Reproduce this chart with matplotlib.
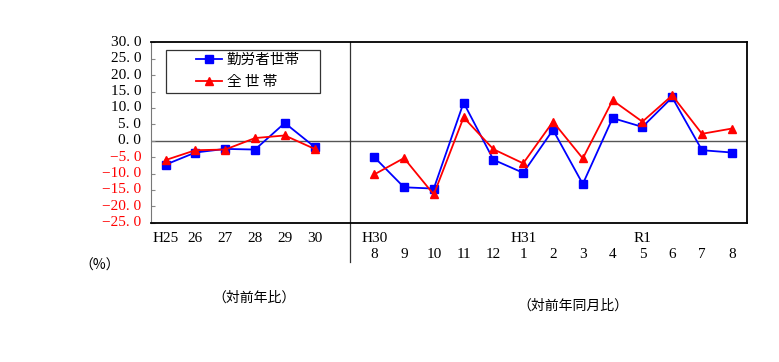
import matplotlib
matplotlib.use("Agg")
import matplotlib.pyplot as plt
from matplotlib.patches import Rectangle
import numpy as np

# ---- data ----
annual_labels = ["H25", "26", "27", "28", "29", "30"]
annual_worker = [-7.3, -3.6, -2.5, -2.7, 5.4, -1.9]
annual_all = [-5.9, -2.9, -2.7, 0.8, 1.6, -2.5]

month_labels = ["8", "9", "10", "11", "12", "1", "2", "3", "4", "5", "6", "7", "8"]
era_labels = {0: "H30", 5: "H31", 9: "R1"}
month_worker = [-5.0, -14.2, -14.6, 11.6, -5.8, -9.8, 3.3, -13.2, 6.9, 4.2, 13.2, -2.9, -3.6]
month_all = [-10.3, -5.3, -16.4, 7.1, -2.6, -6.9, 5.8, -5.4, 12.3, 5.8, 13.8, 2.1, 3.7]

series_names = ["勤労者世帯", "全 世 帯"]
yticks = [-25, -20, -15, -10, -5, 0, 5, 10, 15, 20, 25, 30]

JP = ["Noto Sans CJK JP", "DejaVu Sans"]
NUM = ["Liberation Serif", "DejaVu Serif"]
FS = 11
W, H = 779, 362

fig = plt.figure(figsize=(W / 100, H / 100), dpi=100)
ax = fig.add_axes([150.7 / W, 1 - 222.7 / H, (746.7 - 150.7) / W, (222.7 - 42.3) / H])

xa = np.arange(len(annual_labels))
xm = np.arange(len(month_labels)) + len(annual_labels) + 1

blue = "#0000FF"
red = "#FF0000"

l1, = ax.plot(xa, annual_worker, color=blue, marker="s", markersize=6, lw=1.3, label=series_names[0])
l2, = ax.plot(xa, annual_all, color=red, marker="^", markersize=6, lw=1.3, label=series_names[1])
ax.plot(xm, month_worker, color=blue, marker="s", markersize=6, lw=1.3)
ax.plot(xm, month_all, color=red, marker="^", markersize=6, lw=1.3)

ax.axhline(0, color="#555555", lw=1.0, zorder=1)

ax.set_xlim(-0.5, xm[-1] + 0.5)
ax.set_ylim(-25, 30)
ax.set_yticks(yticks)
ax.set_yticklabels([])
ax.set_xticks([])
ax.tick_params(axis="y", direction="in", length=3, color="#888888", width=0.8)

for v in yticks:
    lab = f"{v:.1f}".replace(".", ". ").replace("-", "\u2212")
    ax.text(-0.016, v, lab, transform=ax.get_yaxis_transform(), ha="right", va="center",
            fontsize=FS, family=NUM, color=(red if v < 0 else "black"))

for s in ["top", "bottom", "right"]:
    ax.spines[s].set_color("black")
    ax.spines[s].set_linewidth(1.3)
ax.spines["left"].set_color("#777777")
ax.spines["left"].set_linewidth(0.8)

# divider
div_x = len(annual_labels) + 0.2
ax.plot([div_x, div_x], [1, -0.218], transform=ax.get_xaxis_transform(), color="#333333",
        lw=0.9, clip_on=False)

trans = ax.get_xaxis_transform()
row1 = -(238 - 222.7) / 180.4
row2 = -(254 - 222.7) / 180.4
for x, lab in zip(xa, annual_labels):
    ax.text(x, row1, lab, transform=trans, ha="center", va="center", fontsize=FS, family=NUM)
for i, (x, lab) in enumerate(zip(xm, month_labels)):
    ax.text(x, row2, lab, transform=trans, ha="center", va="center", fontsize=FS, family=NUM)
    if i in era_labels:
        ax.text(x, row1, era_labels[i], transform=trans, ha="center", va="center", fontsize=FS, family=NUM)

fig.text(100 / W, 1 - 266 / H, "（%）", ha="center", va="center", fontsize=10, family=JP)
fig.text(254 / W, 1 - 298 / H, "（対前年比）", ha="center", va="center", fontsize=10, family=JP)
fig.text(573 / W, 1 - 306 / H, "（対前年同月比）", ha="center", va="center", fontsize=10, family=JP)

# legend box (frame drawn separately to match the reference's wide padding)
fig.patches.append(Rectangle((166 / W, 1 - 93 / H), (320 - 166) / W, (93 - 50) / H,
                             transform=fig.transFigure, facecolor="white", edgecolor="#333333",
                             lw=0.9, zorder=4))
leg = fig.legend(handles=[l1, l2], loc="upper left", bbox_to_anchor=(196 / W, 1 - 53 / H),
                 borderaxespad=0, borderpad=0, frameon=False, prop={"family": JP, "size": 10.5},
                 handlelength=1.8, handletextpad=0.3, labelspacing=0.55, markerscale=0.9)
leg.set_zorder(5)

fig.savefig("out.png", dpi=100)
